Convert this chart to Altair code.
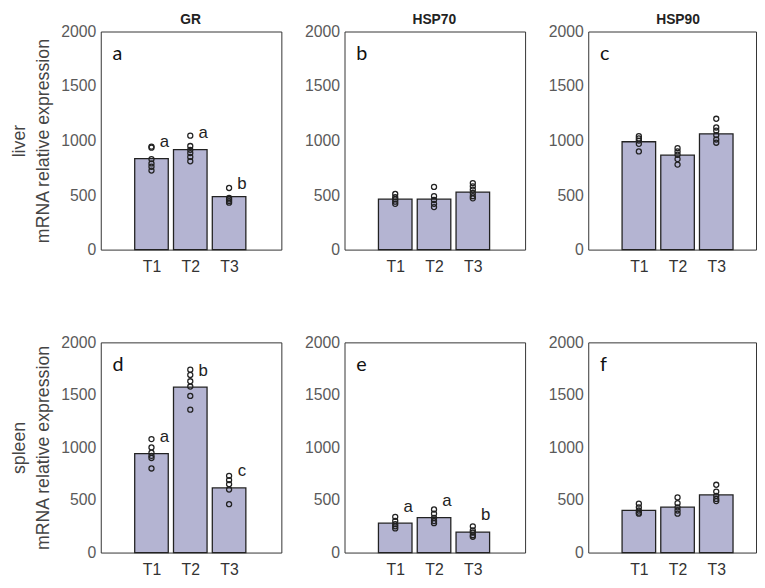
import json
import altair as alt
import pandas as pd

categories = ["T1", "T2", "T3"]
genes = ["GR", "HSP70", "HSP90"]
tissues = ["liver", "spleen"]
panel_tags = [["a", "b", "c"], ["d", "e", "f"]]

# bar heights (mean relative expression) per tissue / gene, T1..T3
bars_liver_GR = [835, 917, 486]
bars_liver_HSP70 = [462, 462, 528]
bars_liver_HSP90 = [989, 866, 1062]
bars_spleen_GR = [941, 1574, 615]
bars_spleen_HSP70 = [280, 332, 195]
bars_spleen_HSP90 = [402, 432, 548]

# individual samples (open circles)
dots_liver_GR = [[945, 935, 830, 790, 760, 725], [1045, 950, 915, 885, 850, 810], [565, 475, 460, 445, 430]]
dots_liver_HSP70 = [[510, 480, 460, 440, 420], [575, 490, 455, 420, 390], [610, 580, 550, 520, 490, 470]]
dots_liver_HSP90 = [[1040, 1020, 1000, 970, 900], [930, 900, 870, 830, 780], [1200, 1120, 1090, 1050, 1010, 980]]
dots_spleen_GR = [[1080, 1000, 950, 920, 900, 800], [1740, 1690, 1630, 1580, 1490, 1360], [730, 690, 650, 600, 460]]
dots_spleen_HSP70 = [[340, 300, 270, 250, 230], [410, 370, 330, 300, 280], [250, 210, 190, 165, 150]]
dots_spleen_HSP90 = [[465, 430, 400, 380, 370], [525, 470, 430, 400, 370], [645, 580, 540, 510, 490]]

# significance letters and their heights
letters_liver_GR = ["a", "a", "b"]
letters_liver_GR_y = [986, 1068, 600]
letters_spleen_GR = ["a", "b", "c"]
letters_spleen_GR_y = [1099, 1729, 776]
letters_spleen_HSP70 = ["a", "a", "b"]
letters_spleen_HSP70_y = [435, 490, 353]

y_ticks = [0, 500, 1000, 1500, 2000]

bars = {
    ("liver", "GR"): bars_liver_GR, ("liver", "HSP70"): bars_liver_HSP70, ("liver", "HSP90"): bars_liver_HSP90,
    ("spleen", "GR"): bars_spleen_GR, ("spleen", "HSP70"): bars_spleen_HSP70, ("spleen", "HSP90"): bars_spleen_HSP90,
}
dots = {
    ("liver", "GR"): dots_liver_GR, ("liver", "HSP70"): dots_liver_HSP70, ("liver", "HSP90"): dots_liver_HSP90,
    ("spleen", "GR"): dots_spleen_GR, ("spleen", "HSP70"): dots_spleen_HSP70, ("spleen", "HSP90"): dots_spleen_HSP90,
}
letters = {
    ("liver", "GR"): (letters_liver_GR, letters_liver_GR_y),
    ("spleen", "GR"): (letters_spleen_GR, letters_spleen_GR_y),
    ("spleen", "HSP70"): (letters_spleen_HSP70, letters_spleen_HSP70_y),
}

label_expr = json.dumps(categories) + "[datum.value - 1]"
FONT = "Liberation Sans"
BAR_COLOR = "#b4b4d2"
EDGE = "#222222"
H1, H2 = 221, 213
WIDTHS = [183, 183, 170]
X_DOMAINS = [[-0.18, 4.22], [-0.18, 4.22], [-0.18, 3.9]]


def panel(r, c):
    tissue, gene = tissues[r], genes[c]
    key = (tissue, gene)
    h = H1 if r == 0 else H2
    w = WIDTHS[c]
    ytitle = [tissue, "mRNA relative expression"] if c == 0 else None
    x_enc = alt.X(
        "pos:Q",
        scale=alt.Scale(domain=X_DOMAINS[c], nice=False, zero=False),
        axis=alt.Axis(values=[1, 2, 3], labelExpr=label_expr, title=None, grid=False, domain=False,
                      ticks=False, labelPadding=9, labelFontSize=16, labelColor="#333333",
                      labelFont=FONT),
    )
    y_axis = dict(values=y_ticks, format="d", grid=False, domain=False, ticks=False, labelPadding=5,
                  labelFontSize=16, labelColor="#5a5a5a", labelFont=FONT,
                  minExtent=41, maxExtent=41)
    if ytitle is not None:
        y_axis.update(title=ytitle, titleFontSize=18, titleLineHeight=24, titleFont=FONT,
                      titleColor="#444444", titleFontWeight="normal", titlePadding=8)
    else:
        y_axis.update(title=None)
    y_enc = alt.Y("value:Q", scale=alt.Scale(domain=[0, 2000], nice=False), axis=alt.Axis(**y_axis))

    bar_df = pd.DataFrame({"pos": [1, 2, 3], "value": bars[key], "cat": categories})
    dot_rows = []
    for i, vals in enumerate(dots[key]):
        for v in vals:
            dot_rows.append({"pos": i + 1, "value": v})
    dot_df = pd.DataFrame(dot_rows)

    bar_layer = alt.Chart(bar_df).mark_bar(size=34, color=BAR_COLOR, stroke=EDGE, strokeWidth=1.3).encode(
        x=x_enc, y=y_enc)
    dot_layer = alt.Chart(dot_df).mark_point(shape="circle", filled=False, size=26, stroke=EDGE,
                                             strokeWidth=1.3, opacity=1).encode(x=x_enc, y=y_enc)
    tag_df = pd.DataFrame({"tag": [panel_tags[r][c]]})
    tag_layer = alt.Chart(tag_df).mark_text(font="Lato", fontSize=20, align="left", baseline="alphabetic",
                                            color="#111111").encode(
        x=alt.value(12), y=alt.value(29), text="tag:N")
    layers = [bar_layer, dot_layer, tag_layer]
    if key in letters:
        lt, ly = letters[key]
        let_df = pd.DataFrame({"pos": [1, 2, 3], "value": ly, "letter": lt})
        let_layer = alt.Chart(let_df).mark_text(font=FONT, fontSize=17, align="center", baseline="middle",
                                                dx=13, color="#222222").encode(
            x=x_enc, y=y_enc, text="letter:N")
        layers.append(let_layer)
    if r == 0:
        head_df = pd.DataFrame({"gene": [gene]})
        head_layer = alt.Chart(head_df).mark_text(font=FONT, fontSize=14, fontWeight="bold", align="center",
                                                  baseline="alphabetic", color="#222222").encode(
            x=alt.value(91), y=alt.value(-8), text="gene:N")
        layers.append(head_layer)
    return alt.layer(*layers).properties(width=w, height=h)


rows = []
for r in range(2):
    rows.append(alt.hconcat(*[panel(r, c) for c in range(3)], spacing=21))

chart = alt.vconcat(*rows, spacing=59).properties(
    padding={"left": 2, "top": 0, "right": 0, "bottom": 0}
).configure_view(stroke="#333333", strokeWidth=1).configure_axis(grid=False)

chart.save("out.html", embed_options={"renderer": "svg", "actions": False})
